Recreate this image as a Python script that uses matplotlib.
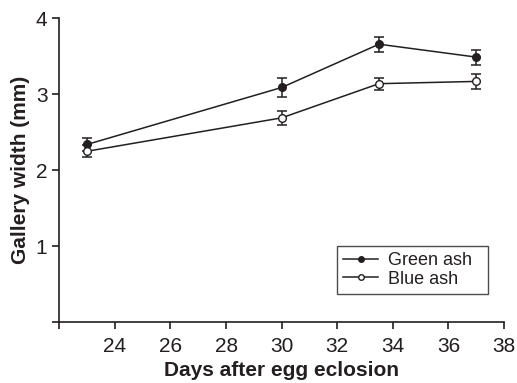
import matplotlib
matplotlib.use("Agg")
import matplotlib.pyplot as plt
from matplotlib.lines import Line2D

plt.rcParams['font.family'] = ['Liberation Sans', 'DejaVu Sans']

# data
days = [23, 30, 33.5, 37]
green_ash = [2.34, 3.09, 3.66, 3.49]
green_err = [0.09, 0.13, 0.10, 0.10]
blue_ash = [2.25, 2.69, 3.14, 3.17]
blue_err = [0.08, 0.095, 0.08, 0.10]

x_ticks = [22, 24, 26, 28, 30, 32, 34, 36, 38]
x_labels = ['', '24', '26', '28', '30', '32', '34', '36', '38']
y_ticks = [0, 1, 2, 3, 4]
y_labels = ['', '1', '2', '3', '4']

ink = '#231f20'

fig = plt.figure(figsize=(5.17, 3.83), dpi=100)
ax = fig.add_axes([0.1147, 0.159, 0.975 - 0.1147, 0.952 - 0.159])

ax.errorbar(days, green_ash, yerr=green_err, color=ink, marker='o', ms=5.5,
            mfc=ink, mec=ink, lw=1.1, elinewidth=1.1, capsize=3.5, capthick=1.1,
            zorder=3)
ax.errorbar(days, blue_ash, yerr=blue_err, color=ink, marker='o', ms=5.5,
            mfc='white', mec=ink, lw=1.1, elinewidth=1.1, capsize=3.5, capthick=1.1,
            zorder=3)

ax.set_xlim(22, 38)
ax.set_ylim(0, 4)
ax.set_xticks(x_ticks)
ax.set_xticklabels(x_labels)
ax.set_yticks(y_ticks)
ax.set_yticklabels(y_labels)
ax.tick_params(direction='out', length=5, width=1.2, colors=ink, labelsize=15)
ax.tick_params(axis='x', pad=6)

for s in ['top', 'right']:
    ax.spines[s].set_visible(False)
for s in ['left', 'bottom']:
    ax.spines[s].set_linewidth(1.2)
    ax.spines[s].set_color(ink)

ax.set_xlabel('Days after egg eclosion', fontsize=15, fontweight='bold', color=ink, labelpad=3)
ax.set_ylabel('Gallery width (mm)', fontsize=15, fontweight='bold', color=ink, labelpad=4)

# legend without error bars, just line + marker
handles = [
    Line2D([], [], color=ink, lw=1.1, marker='o', ms=4, mfc=ink, mec=ink),
    Line2D([], [], color=ink, lw=1.1, marker='o', ms=4, mfc='white', mec=ink),
]
leg = ax.legend(handles, ['Green ash', 'Blue ash'], loc='lower left',
                bbox_to_anchor=(0.6245, 0.0921, 0.3396, 0.17), mode='expand',
                fontsize=13, frameon=True, fancybox=False, edgecolor=ink,
                borderpad=0.35, borderaxespad=0, handlelength=1.9,
                handletextpad=0.55, labelspacing=0.1)
leg.get_frame().set_linewidth(1.0)
for t in leg.get_texts():
    t.set_color(ink)

fig.savefig('out.png', dpi=100)
